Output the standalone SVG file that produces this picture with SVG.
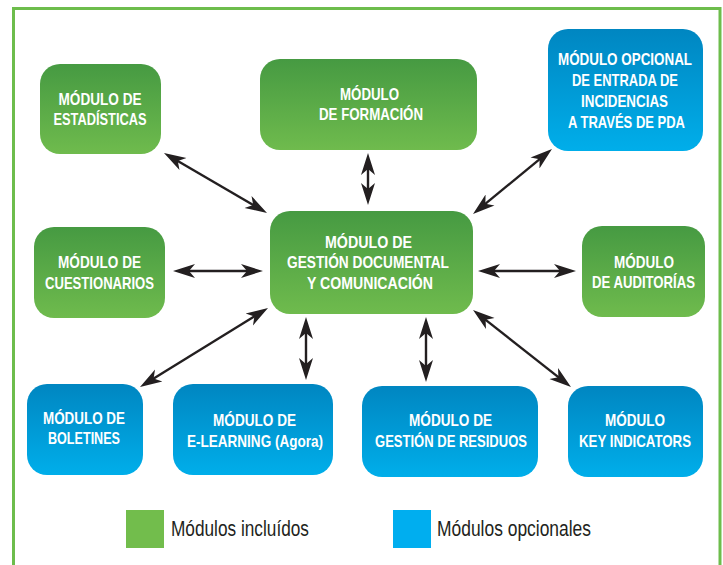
<svg xmlns="http://www.w3.org/2000/svg" width="723" height="565" viewBox="0 0 723 565">
<style>
.n text{font-family:"Liberation Sans",Arial,sans-serif;font-weight:bold;font-size:16.3px;fill:#ffffff;text-anchor:middle;}
.g{fill:url(#gg);}
.b{fill:url(#gb);}
.c line{stroke:#231f20;stroke-width:2.4;marker-start:url(#ah);marker-end:url(#ah);}
.lg{font-family:"Liberation Sans",Arial,sans-serif;font-size:22px;fill:#231f20;}
</style>
<defs>
<linearGradient id="gg" x1="0" y1="0" x2="0" y2="1">
<stop offset="0" stop-color="#469a42"/>
<stop offset="1" stop-color="#6fbb4d"/>
</linearGradient>
<linearGradient id="gb" x1="0" y1="0" x2="0" y2="1">
<stop offset="0" stop-color="#0086c1"/>
<stop offset="1" stop-color="#00aeea"/>
</linearGradient>
<marker id="ah" viewBox="0 -8 22 16" refX="14" refY="0" markerWidth="22" markerHeight="16" markerUnits="userSpaceOnUse" orient="auto-start-reverse">
<path d="M22,0 L0,-7 L6,0 L0,7 Z" fill="#231f20"/>
</marker>
</defs>
<rect x="0" y="0" width="723" height="565" fill="#ffffff"/>
<rect x="13.5" y="8.5" width="706.5" height="620" fill="none" stroke="#6dbd4c" stroke-width="3"/>

<g class="c" id="connectors">
<line x1="170.9" y1="157" x2="260.1" y2="209"/>
<line x1="368" y1="161" x2="368" y2="197"/>
<line x1="545.8" y1="154.1" x2="479.2" y2="208.9"/>
<line x1="181" y1="271" x2="255" y2="271"/>
<line x1="486" y1="271" x2="568" y2="271"/>
<line x1="261.2" y1="312.2" x2="146.8" y2="382.8"/>
<line x1="306" y1="325" x2="306" y2="372"/>
<line x1="426" y1="325" x2="426" y2="374"/>
<line x1="479.3" y1="314.9" x2="564.7" y2="382.1"/>
</g>

<g class="n" id="estadisticas">
<rect class="g" x="40" y="64" width="121" height="90" rx="20"/>
<text x="100" y="105" textLength="83" lengthAdjust="spacingAndGlyphs">MÓDULO DE</text>
<text x="100" y="125" textLength="93" lengthAdjust="spacingAndGlyphs">ESTADÍSTICAS</text>
</g>

<g class="n" id="formacion">
<rect class="g" x="260" y="59" width="217" height="91" rx="20"/>
<text x="369.5" y="100" textLength="59" lengthAdjust="spacingAndGlyphs">MÓDULO</text>
<text x="371" y="120" textLength="104" lengthAdjust="spacingAndGlyphs">DE FORMACIÓN</text>
</g>

<g class="n" id="pda">
<rect class="b" x="548" y="29" width="155" height="122" rx="20"/>
<text x="625" y="64.5" textLength="134" lengthAdjust="spacingAndGlyphs">MÓDULO OPCIONAL</text>
<text x="625" y="85.5" textLength="106" lengthAdjust="spacingAndGlyphs">DE ENTRADA DE</text>
<text x="624.5" y="106.5" textLength="87" lengthAdjust="spacingAndGlyphs">INCIDENCIAS</text>
<text x="626.5" y="127.5" textLength="117" lengthAdjust="spacingAndGlyphs">A TRAVÉS DE PDA</text>
</g>

<g class="n" id="central">
<rect class="g" x="270" y="211" width="203" height="103" rx="20"/>
<text x="368.5" y="247.5" textLength="87" lengthAdjust="spacingAndGlyphs">MÓDULO DE</text>
<text x="368" y="268" textLength="162" lengthAdjust="spacingAndGlyphs">GESTIÓN DOCUMENTAL</text>
<text x="370" y="288.5" textLength="126" lengthAdjust="spacingAndGlyphs">Y COMUNICACIÓN</text>
</g>

<g class="n" id="cuestionarios">
<rect class="g" x="34" y="227" width="131" height="91" rx="20"/>
<text x="99.5" y="267.5" textLength="83" lengthAdjust="spacingAndGlyphs">MÓDULO DE</text>
<text x="99.5" y="288.5" textLength="109" lengthAdjust="spacingAndGlyphs">CUESTIONARIOS</text>
</g>

<g class="n" id="auditorias">
<rect class="g" x="582" y="226" width="123" height="91" rx="20"/>
<text x="644" y="267.5" textLength="60" lengthAdjust="spacingAndGlyphs">MÓDULO</text>
<text x="643.5" y="288" textLength="103" lengthAdjust="spacingAndGlyphs">DE AUDITORÍAS</text>
</g>

<g class="n" id="boletines">
<rect class="b" x="27" y="384" width="116" height="91" rx="20"/>
<text x="84" y="423.5" textLength="82" lengthAdjust="spacingAndGlyphs">MÓDULO DE</text>
<text x="84" y="444" textLength="72" lengthAdjust="spacingAndGlyphs">BOLETINES</text>
</g>

<g class="n" id="elearning">
<rect class="b" x="173" y="384" width="160" height="91" rx="20"/>
<text x="254.5" y="426" textLength="83" lengthAdjust="spacingAndGlyphs">MÓDULO DE</text>
<text x="255" y="447" textLength="136" lengthAdjust="spacingAndGlyphs">E-LEARNING (Agora)</text>
</g>

<g class="n" id="residuos">
<rect class="b" x="362" y="386" width="176" height="91" rx="20"/>
<text x="450.5" y="426" textLength="83" lengthAdjust="spacingAndGlyphs">MÓDULO DE</text>
<text x="451" y="447" textLength="152" lengthAdjust="spacingAndGlyphs">GESTIÓN DE RESIDUOS</text>
</g>

<g class="n" id="keyindicators">
<rect class="b" x="568" y="386" width="135" height="91" rx="20"/>
<text x="635" y="426" textLength="60" lengthAdjust="spacingAndGlyphs">MÓDULO</text>
<text x="635" y="447" textLength="112" lengthAdjust="spacingAndGlyphs">KEY INDICATORS</text>
</g>

<g id="legend">
<rect x="126" y="510" width="38" height="38" fill="#72bd4c"/>
<text class="lg" x="171" y="535.5" textLength="138" lengthAdjust="spacingAndGlyphs">Módulos incluídos</text>
<rect x="393" y="510" width="38" height="38" fill="#00aeef"/>
<text class="lg" x="437" y="535.5" textLength="154" lengthAdjust="spacingAndGlyphs">Módulos opcionales</text>
</g>
</svg>
